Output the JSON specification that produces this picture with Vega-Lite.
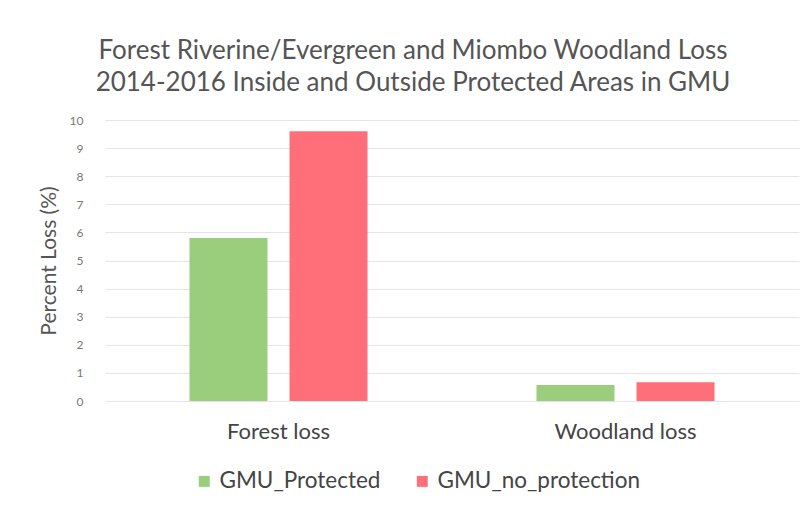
{
  "$schema": "https://vega.github.io/schema/vega-lite/v6.json",
  "width": 694,
  "height": 281,
  "padding": {"left": 38, "top": 38, "right": 10, "bottom": 5},
  "background": "white",
  "title": {
    "text": ["Forest Riverine/Evergreen and Miombo Woodland Loss", "2014-2016 Inside and Outside Protected Areas in GMU"],
    "font": "Lato",
    "fontSize": 26,
    "fontWeight": "normal",
    "color": "#555555",
    "lineHeight": 32,
    "offset": 18,
    "anchor": "middle",
    "dx": -39
  },
  "data": {
    "values": [
      {"category": "Forest loss", "series": "GMU_Protected", "value": 5.8},
      {"category": "Forest loss", "series": "GMU_no_protection", "value": 9.6},
      {"category": "Woodland loss", "series": "GMU_Protected", "value": 0.57},
      {"category": "Woodland loss", "series": "GMU_no_protection", "value": 0.67}
    ]
  },
  "mark": {"type": "bar"},
  "encoding": {
    "x": {
      "field": "category",
      "type": "nominal",
      "scale": {"paddingInner": 0.487, "paddingOuter": 0.2435},
      "axis": {
        "title": null,
        "labelAngle": 0,
        "labelFont": "Lato",
        "labelFontSize": 22,
        "labelColor": "#444444",
        "labelPadding": 20,
        "ticks": false,
        "domain": false
      }
    },
    "xOffset": {
      "field": "series",
      "type": "nominal",
      "sort": ["GMU_Protected", "GMU_no_protection"],
      "scale": {"paddingInner": 0.22, "paddingOuter": 0}
    },
    "y": {
      "field": "value",
      "type": "quantitative",
      "scale": {"domain": [0, 10]},
      "axis": {
        "title": "Percent Loss (%)",
        "titleFont": "Lato",
        "titleFontSize": 21,
        "titleFontWeight": "normal",
        "titleColor": "#555555",
        "titlePadding": 10,
        "labelFont": "Lato",
        "labelFontSize": 12,
        "labelColor": "#777777",
        "labelPadding": 22,
        "labelOverlap": false,
        "values": [0,1,2,3,4,5,6,7,8,9,10],
        "ticks": false,
        "domain": false,
        "gridColor": "#e4e4e4"
      }
    },
    "color": {
      "field": "series",
      "type": "nominal",
      "sort": ["GMU_Protected", "GMU_no_protection"],
      "scale": {"domain": ["GMU_Protected", "GMU_no_protection"], "range": ["#9acd7c", "#ff6f7a"]},
      "legend": {
        "title": null,
        "orient": "none",
        "legendX": 88,
        "legendY": 350,
        "direction": "horizontal",
        "symbolType": "square",
        "symbolSize": 120,
        "labelFont": "Lato",
        "labelFontSize": 22.5,
        "labelLimit": 400,
        "labelColor": "#444444",
        "columnPadding": 30
      }
    }
  },
  "config": {"view": {"stroke": null}}
}
